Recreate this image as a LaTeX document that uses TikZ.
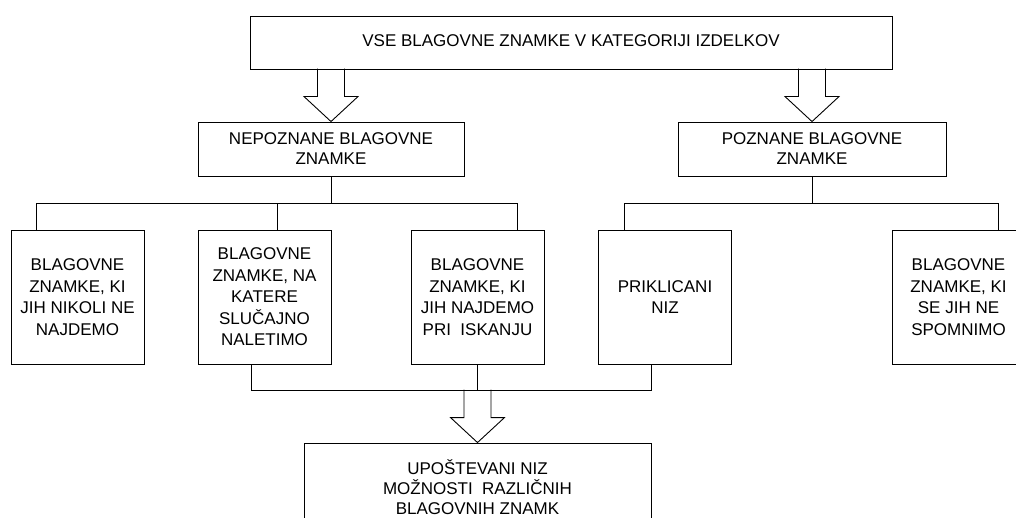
\documentclass[tikz,border=0pt]{standalone}
\usepackage{fontspec}
\setmainfont{Liberation Sans}
\usetikzlibrary{calc}

\begin{document}
\begin{tikzpicture}[x=1pt, y=-1pt, line width=0.9pt, font=\fontsize{17}{20}\selectfont,
    hollow/.pic={\draw (-13.5,-53) -- (-13.5,-25) -- (-27,-25) -- (0,0) -- (27,-25) -- (13.5,-25) -- (13.5,-53);}]
    \tikzstyle{wide} = [rectangle, draw, align=center, inner sep=0pt, minimum height=54pt]
    \tikzstyle{brand} = [rectangle, draw, align=center, inner sep=0pt, minimum width=133pt, minimum height=134pt, font=\fontsize{17}{21.5}\selectfont]
    \useasboundingbox (0,0) rectangle (1016,518);
    \node[wide, minimum width=642pt, minimum height=53pt, text depth=4pt] (all) at (571,42.5) {VSE BLAGOVNE ZNAMKE V KATEGORIJI IZDELKOV};
    \node[wide, minimum width=266pt] (nep) at (331,149) {NEPOZNANE BLAGOVNE\\ZNAMKE};
    \node[wide, minimum width=268pt] (pozn) at (812,149) {POZNANE BLAGOVNE\\ZNAMKE};
    \node[brand] (b1) at (77.5,297) {BLAGOVNE\\ZNAMKE, KI\\JIH NIKOLI NE\\NAJDEMO};
    \node[brand] (b2) at (264.5,297) {BLAGOVNE\\ZNAMKE, NA\\KATERE\\SLUČAJNO\\NALETIMO};
    \node[brand] (b3) at (477.5,297) {BLAGOVNE\\ZNAMKE, KI\\JIH NAJDEMO\\PRI\ \ ISKANJU};
    \node[brand] (b4) at (665,297) {PRIKLICANI\\NIZ};
    \node[brand] (b5) at (958.5,297) {BLAGOVNE\\ZNAMKE, KI\\SE JIH NE\\SPOMNIMO};
    \node[wide, minimum width=347pt, minimum height=88pt] (final) at (477.5,487) {UPOŠTEVANI NIZ\\MOŽNOSTI\ \ RAZLIČNIH\\BLAGOVNIH ZNAMK};
    % block arrows
    \pic at (nep.north) {hollow};
    \pic at (pozn.north) {hollow};
    % unknown brands
    \draw (nep.south) -- ++(0,27) coordinate (lbus);
    \draw ([xshift=26]b1.north west) |- (lbus) -| ([xshift=-27]b3.north east);
    \draw ([xshift=12.5]b2.north) coordinate (t2) -- (t2 |- lbus);
    % known brands
    \draw (pozn.south) -- ++(0,27) coordinate (rbus);
    \draw ([xshift=26]b4.north west) |- (rbus) -| ([xshift=107]b5.north west);
    % considered set
    \draw (b3.south) -- ++(0,26) coordinate (bbus);
    \draw ([xshift=-13.5]b2.south) |- (bbus) -| ([xshift=-14]b4.south);
    \pic at (final.north) {hollow};
\end{tikzpicture}
\end{document}
